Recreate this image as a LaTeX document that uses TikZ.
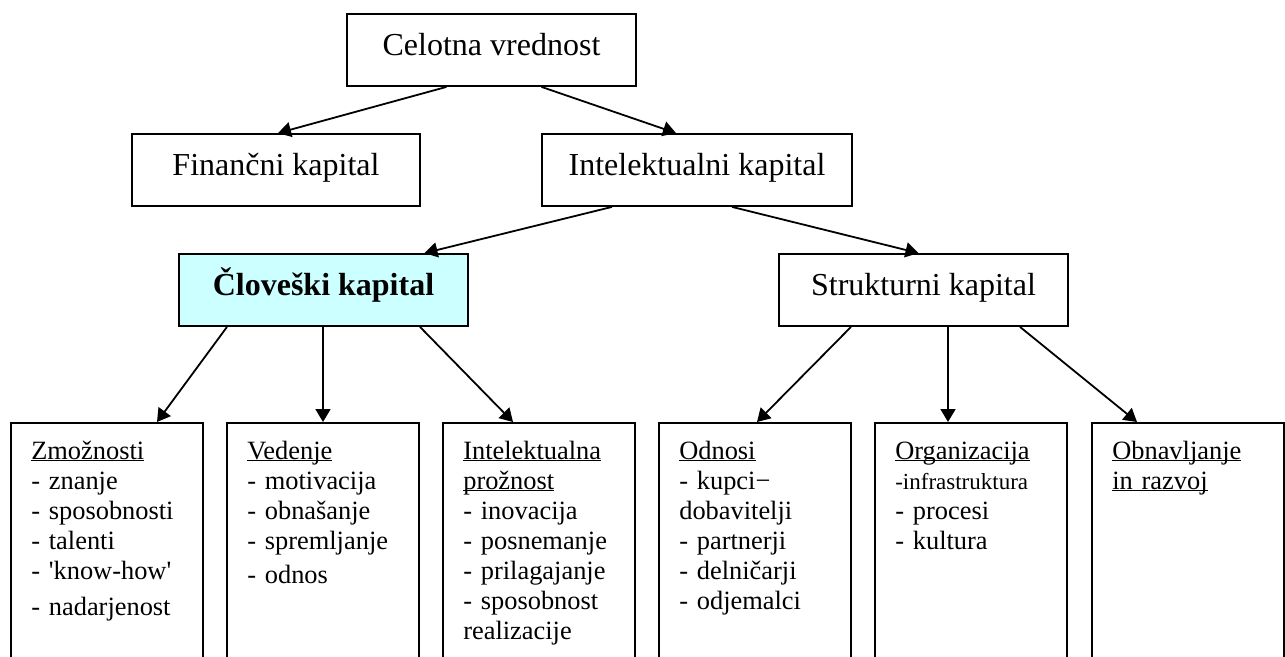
\documentclass[tikz,border=0pt]{standalone}
\usepackage{fontspec}
\setmainfont{Liberation Serif}
\usepackage{xcolor}
\usetikzlibrary{arrows.meta,positioning,calc}
\definecolor{humanfill}{HTML}{CCFFFF}
\newcommand{\ulhead}[1]{\underline{\smash{#1}}}
\tikzset{
  box/.style={draw,line width=1.8pt,minimum height=72pt,inner sep=0pt,
    font=\fontsize{32}{38}\selectfont,text height=22pt,text depth=12pt},
  col/.style={draw,line width=1.8pt,minimum width=192pt,minimum height=240pt,
    anchor=north,inner sep=0pt},
  items/.style={anchor=north west,inner sep=0pt,text width=172pt,align=left,
    font=\fontsize{26.4}{30}\selectfont}
}
\tikzstyle{arrow} = [line width=1.8pt,-{Triangle[length=13pt,width=15pt]}]

\begin{document}
\begin{tikzpicture}[x=1pt,y=-1pt]
  \useasboundingbox (0,0) rectangle (1285,656);
  % upper levels
  \node[box,minimum width=289pt] (cel) at (491.5,50) {Celotna vrednost};
  \node[box,minimum width=288pt] (fin) at (276,170) {Finančni kapital};
  \node[box,minimum width=310pt] (int) at (697,170) {Intelektualni kapital};
  \node[box,minimum width=289pt,fill=humanfill,font=\fontsize{32}{38}\selectfont\bfseries]
    (clo) at (323.5,290) {Človeški kapital};
  \node[box,minimum width=289pt] (str) at (923.5,290) {Strukturni kapital};

  % lower columns
  \node[col] (zm) at (107,422) {};
  \node[col] (ve) at (323,422) {};
  \node[col] (ip) at (539,422) {};
  \node[col] (od) at (755,422) {};
  \node[col] (org) at (971,422) {};
  \node[col] (ob) at (1188,422) {};

  \node[items] (zmt) at ([shift={(21pt,-16pt)}]zm.north west)
    {\strut\ulhead{Zmožnosti}\\- znanje\\- sposobnosti\\- talenti\\- \textquotesingle know-how\textquotesingle\\[6pt]- nadarjenost};
  \node[items] (vet) at ([shift={(21pt,-16pt)}]ve.north west)
    {\strut\ulhead{Vedenje}\\- motivacija\\- obnašanje\\- spremljanje\\[4pt]- odnos};
  \node[items] (ipt) at ([shift={(21pt,-16pt)}]ip.north west)
    {\strut\ulhead{Intelektualna}\\\ulhead{prožnost}\\- inovacija\\- posnemanje\\- prilagajanje\\- sposobnost\\realizacije};
  \node[items] (odt) at ([shift={(21pt,-16pt)}]od.north west)
    {\strut\ulhead{Odnosi}\\- kupci−\\dobavitelji\\- partnerji\\- delničarji\\- odjemalci};
  \node[items] (orgt) at ([shift={(21pt,-16pt)}]org.north west)
    {\strut\ulhead{Organizacija}\\{\fontsize{23}{30}\selectfont -infrastruktura}\\- procesi\\- kultura};
  \node[items] (obt) at ([shift={(21pt,-16pt)}]ob.north west)
    {\strut\ulhead{Obnavljanje}\\\ulhead{in razvoj}};

  % connectors
  \draw[arrow] ([xshift=-45pt]cel.south) -- ([xshift=2pt]fin.north);
  \draw[arrow] ([xshift=50pt]cel.south) -- ([xshift=-21pt]int.north);
  \draw[arrow] ([xshift=-85pt]int.south) -- ([xshift=101pt]clo.north);
  \draw[arrow] ([xshift=35pt]int.south) -- ([xshift=-5pt]str.north);
  \draw[arrow] ([xshift=-96.5pt]clo.south) -- ([xshift=50pt]zm.north);
  \draw[arrow] ([xshift=-0.5pt]clo.south) -- (ve.north);
  \draw[arrow] ([xshift=96.5pt]clo.south) -- ([xshift=-26pt]ip.north);
  \draw[arrow] ([xshift=-72.5pt]str.south) -- ([xshift=2pt]od.north);
  \draw[arrow] ([xshift=24.5pt]str.south) -- ([xshift=-23pt]org.north);
  \draw[arrow] ([xshift=96.5pt]str.south) -- ([xshift=-51pt]ob.north);
\end{tikzpicture}
\end{document}
